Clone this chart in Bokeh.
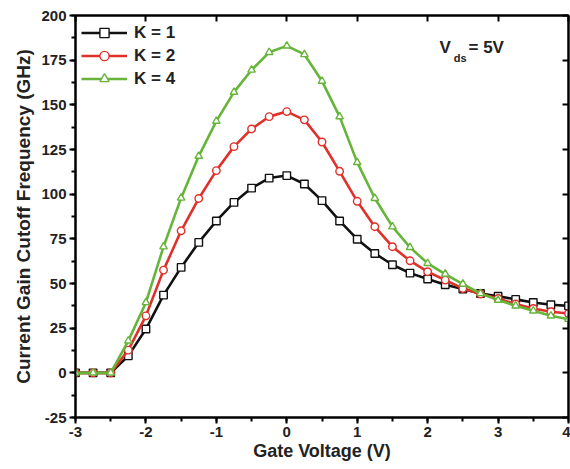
from bokeh.plotting import figure
from bokeh.models import (LinearAxis, Range1d, Legend, LegendItem, Label,
                          SingleIntervalTicker, CustomJSTickFormatter)
from bokeh.embed import file_html
from bokeh.resources import INLINE

# ---- data ----
gate_voltage = [-3.0, -2.75, -2.5, -2.25, -2.0, -1.75, -1.5, -1.25, -1.0, -0.75,
                -0.5, -0.25, 0.0, 0.25, 0.5, 0.75, 1.0, 1.25, 1.5, 1.75,
                2.0, 2.25, 2.5, 2.75, 3.0, 3.25, 3.5, 3.75, 4.0]
k1 = [0, 0, 0, 9.5, 24.5, 43.5, 59, 73, 85, 95.4,
      103.4, 109, 110.4, 105.7, 96.4, 85, 74.8, 66.8, 60.5, 55.8,
      52.5, 49.3, 46.9, 44.4, 42.9, 41.1, 39.4, 38.1, 37.5]
k2 = [0, 0, 0, 12.7, 31.9, 57.5, 79.5, 97.6, 113.2, 126.6,
      136.5, 143.4, 146.2, 141.6, 129.2, 112.8, 96, 81.8, 70.6, 62.7,
      56.6, 51.9, 47.2, 44.1, 41.6, 38.5, 36, 34.2, 33.2]
k4 = [0, 0, 0, 17.9, 39.4, 70.6, 97.9, 121.3, 140.9, 157.1,
      169.5, 179.4, 183, 178.2, 163.3, 143.4, 117.8, 97.7, 81.8, 70.2,
      61.3, 55.3, 49.7, 44.4, 40.7, 37.5, 34.7, 31.9, 30]
series_labels = ["K = 1", "K = 2", "K = 4"]

FONT = "Liberation Sans"
TXT = "#222222"

p = figure(width=570, height=469, output_backend="svg", toolbar_location=None,
           x_range=Range1d(-3, 4), y_range=Range1d(-25, 200),
           min_border_left=75, min_border_right=2, min_border_top=15,
           min_border_bottom=52)
p.background_fill_color = "white"
p.border_fill_color = "white"
p.grid.visible = False
p.outline_line_color = "black"
p.outline_line_width = 2

plain = CustomJSTickFormatter(code="return tick.toString();")
for ax in [p.xaxis[0], p.yaxis[0]]:
    ax.axis_line_width = 2
    ax.major_tick_line_width = 2
    ax.minor_tick_line_width = 2
    ax.major_tick_out = 6
    ax.major_tick_in = 0
    ax.minor_tick_out = 4
    ax.minor_tick_in = 0
    ax.formatter = plain
    ax.major_label_text_font = FONT
    ax.major_label_text_font_style = "bold"
    ax.major_label_text_font_size = "15px"
    ax.major_label_text_color = TXT
    ax.axis_label_text_font = FONT
    ax.axis_label_text_font_style = "bold"
    ax.axis_label_text_color = TXT

p.xaxis[0].ticker = SingleIntervalTicker(interval=1, num_minor_ticks=2)
p.yaxis[0].ticker = SingleIntervalTicker(interval=25, num_minor_ticks=2)
p.xaxis[0].axis_label = "Gate Voltage (V)"
p.yaxis[0].axis_label = "Current Gain Cutoff Frequency (GHz)"
p.xaxis[0].axis_label_text_font_size = "18px"
p.yaxis[0].axis_label_text_font_size = "19px"
p.xaxis[0].major_label_standoff = 3
p.yaxis[0].major_label_standoff = 3
p.xaxis[0].axis_label_standoff = 1
p.yaxis[0].axis_label_standoff = 4

# mirror axes (ticks inward, no labels)
top = LinearAxis(ticker=SingleIntervalTicker(interval=1, num_minor_ticks=2))
right = LinearAxis(ticker=SingleIntervalTicker(interval=25, num_minor_ticks=2))
for ax in [top, right]:
    ax.axis_line_width = 2
    ax.major_tick_line_width = 2
    ax.major_tick_in = 6
    ax.major_tick_out = 0
    ax.minor_tick_in = 0
    ax.minor_tick_out = 0
    ax.formatter = CustomJSTickFormatter(code="return '';")
    ax.major_label_standoff = 0
p.add_layout(top, "above")
p.add_layout(right, "right")

colors = ["#111111", "#e0302a", "#66b53a"]
markers = ["square", "circle", "triangle"]
items = []
for ys, lab, c, m in zip([k1, k2, k4], series_labels, colors, markers):
    r1 = p.line(gate_voltage, ys, line_color=c, line_width=2.6)
    r2 = p.scatter(gate_voltage, ys, marker=m, size=7.5, line_color=c,
                   fill_color="white", line_width=1.4)
    items.append(LegendItem(label=lab, renderers=[r1, r2]))

legend = Legend(items=items, location="top_left")
legend.border_line_color = None
legend.background_fill_alpha = 0
legend.label_text_font = FONT
legend.label_text_font_style = "bold"
legend.label_text_font_size = "17px"
legend.label_text_color = TXT
legend.glyph_width = 46
legend.glyph_height = 23
legend.label_height = 23
legend.spacing = 0
legend.padding = 4
legend.margin = 6
legend.label_standoff = 7
p.add_layout(legend)

# V_ds = 5V annotation (data coordinates)
p.add_layout(Label(x=2.17, y=177, text="V", text_font=FONT,
                   text_font_style="bold", text_font_size="17px",
                   text_color=TXT))
p.add_layout(Label(x=2.37, y=173, text="ds", text_font=FONT,
                   text_font_style="bold", text_font_size="11px",
                   text_color=TXT))
p.add_layout(Label(x=2.58, y=177, text="= 5V", text_font=FONT,
                   text_font_style="bold", text_font_size="17px",
                   text_color=TXT))

open("out.html", "w").write(file_html(p, INLINE))
